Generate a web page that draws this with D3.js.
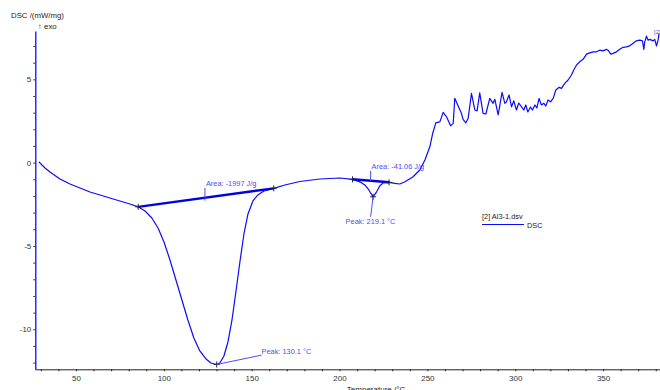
<!DOCTYPE html>
<html><head><meta charset="utf-8">
<script src="https://cdn.jsdelivr.net/npm/d3@7"></script>
<style>
html,body{margin:0;padding:0;background:#fff;}
svg{display:block;font-family:"Liberation Sans",Arial,sans-serif;}
</style></head>
<body><svg id="c" width="660" height="390"></svg>
<script>
// Temperature (°C) and DSC signal (mW/mg)
const temps = [28.9,30.65,32.4,35.2,40.9,46.6,52.3,58.0,63.7,69.3,75.0,80.7,85.4,89.3,93.2,96.7,100.1,103.5,106.9,110.3,113.7,117.1,120.5,124.0,126.8,130.1,131.9,134.2,136.5,138.8,141.0,143.3,145.6,147.9,150.7,153.5,157.0,162.6,168.9,177.4,188.8,200.2,207.4,211.6,214.4,216.7,219.1,221.1,222.9,224.8,228.2,231.5,234.3,237.2,241.7,245.7,248.6,251.4,253.1,254.8,257.1,259.0,260.9,263.2,264.7,265.6,268.1,269.4,270.3,271.9,273.2,275.1,277.0,278.3,279.8,281.7,283.3,285.5,287.4,288.4,290.3,292.5,294.1,295.0,296.5,297.9,299.2,300.7,302.0,303.6,304.9,306.0,307.2,308.7,309.8,311.2,312.3,313.6,314.9,316.3,317.4,318.7,320.1,321.6,323.1,325.0,326.3,328.2,330.1,332.0,333.3,334.9,336.7,338.6,340.6,342.4,344.3,346.2,348.1,350.0,351.9,352.8,354.4,355.7,357.6,359.5,361.4,363.3,365.2,367.1,369.0,370.9,372.4,373.2,373.7,374.7,375.6,376.6,378.5,379.4,380.4,381.3,381.9];
const dsc = [0.05,-0.14,-0.32,-0.56,-0.98,-1.28,-1.52,-1.76,-1.94,-2.12,-2.30,-2.48,-2.65,-2.90,-3.32,-3.92,-4.76,-5.84,-7.04,-8.24,-9.44,-10.52,-11.30,-11.78,-12.02,-12.11,-12.02,-11.60,-10.76,-9.44,-7.76,-5.96,-4.28,-3.08,-2.30,-1.94,-1.70,-1.54,-1.34,-1.13,-0.98,-0.92,-1.00,-1.15,-1.34,-1.64,-2.05,-1.75,-1.40,-1.21,-1.18,-1.24,-1.28,-1.15,-0.86,-0.44,0.16,0.95,1.78,2.39,2.45,3.02,2.75,2.21,2.36,3.86,3.26,2.96,2.60,2.39,2.66,4.16,3.16,3.11,4.19,2.96,2.92,3.86,3.56,3.80,2.86,4.22,3.56,3.65,4.06,3.35,3.71,3.16,3.58,3.35,3.16,3.46,3.04,3.34,3.16,3.46,3.28,3.86,3.46,3.56,3.40,3.76,3.65,3.86,4.36,4.52,4.46,4.76,4.96,5.26,5.56,5.86,6.05,6.20,6.51,6.59,6.65,6.65,6.75,6.71,6.80,6.75,6.51,6.56,6.65,6.80,6.92,6.95,7.01,7.16,7.31,7.35,7.31,6.80,7.25,7.59,7.35,7.40,7.31,7.40,7.00,7.35,7.76];
// Evaluation baselines (start/end points)
const baseline1 = [[85.4,-2.65],[162.6,-1.54]];
const baseline2 = [[207.4,-1.00],[228.2,-1.18]];
const peaks = [[130.1,-12.11],[219.1,-2.05]];
const areaLabels = ["Area: -1997 J/g","Area: -41.06 J/g"];
const areaAnchors = [[123.4,-2.27,-1.51],[217.7,-1.09,-0.49]];
const peakLabels = ["Peak: 130.1 °C","Peak: 219.1 °C"];
const peakLeaderEnds = [[155.6,-11.55],[217.7,-3.25]];
const xTicks = d3.range(30,381,10);
const yTicks = d3.range(-12,8,1);

const svg = d3.select("#c");
const x = d3.scaleLinear().domain([26.85,382.4]).range([35.3,660]);
const y = d3.scaleLinear().domain([-12.4,7.9]).range([369.3,31]);
const blue = "#0a0aff", annot = "#4b4bff";

// axes
const xa = svg.append("g").attr("transform",`translate(0,${y(-12.4)})`)
  .call(d3.axisBottom(x).tickValues(xTicks).tickSize(2).tickSizeOuter(0)
  .tickFormat(d=> d%50===0 ? d : ""));
xa.select(".domain").attr("stroke","#222");
xa.selectAll(".tick line").attr("stroke","#222");
xa.selectAll("text").attr("font-size","8px").attr("fill","#333").attr("dy","0.9em")
  .attr("font-family","Liberation Sans, Arial, sans-serif");

const ya = svg.append("g").attr("transform",`translate(${x(26.85)},0)`)
  .call(d3.axisLeft(y).tickValues(yTicks).tickSize(2).tickSizeOuter(0)
  .tickFormat(d=> d%5===0 ? d : ""));
ya.select(".domain").attr("stroke",blue).attr("stroke-width",1.3);
ya.selectAll(".tick line").attr("stroke","#333");
ya.selectAll("text").attr("font-size","8px").attr("fill","#333").attr("x",-4)
  .attr("font-family","Liberation Sans, Arial, sans-serif");

// axis titles
svg.append("text").attr("x",11).attr("y",18).attr("font-size","7.8px").attr("fill","#222").text("DSC /(mW/mg)");
svg.append("text").attr("x",38).attr("y",29).attr("font-size","7.8px").attr("fill","#222").text("↑ exo");
svg.append("text").attr("x",376).attr("y",392).attr("text-anchor","middle").attr("font-size","8px").attr("fill","#222").text("Temperature /°C");

// curve
const pts = temps.map((t,i)=>[t,dsc[i]]);
const line = d3.line().x(d=>x(d[0])).y(d=>y(d[1]));
svg.append("path").datum(pts).attr("d",line).attr("fill","none").attr("stroke",blue).attr("stroke-width",1.2).attr("stroke-linejoin","round");

// baselines
[baseline1,baseline2].forEach(b=>{
  svg.append("path").datum(b).attr("d",line).attr("fill","none").attr("stroke","#0000e6").attr("stroke-width",2.4);
});
// cross markers
const crosses = [...baseline1,...baseline2,...peaks];
crosses.forEach(p=>{
  const cx=x(p[0]), cy=y(p[1]);
  svg.append("path").attr("d",`M${cx-3},${cy}H${cx+3}M${cx},${cy-3}V${cy+3}`).attr("stroke","#202040").attr("stroke-width",1);
});
// area labels
areaAnchors.forEach((a,i)=>{
  svg.append("line").attr("x1",x(a[0])).attr("x2",x(a[0])).attr("y1",y(a[1])).attr("y2",y(a[2])).attr("stroke",annot).attr("stroke-width",1);
  svg.append("text").attr("x",x(a[0])+1).attr("y",y(a[2])-2).attr("font-size","7.4px").attr("fill",annot).text(areaLabels[i]);
});
// peak labels
peaks.forEach((p,i)=>{
  const e = peakLeaderEnds[i];
  svg.append("line").attr("x1",x(p[0])).attr("y1",y(p[1])).attr("x2",x(e[0])).attr("y2",y(e[1])).attr("stroke",annot).attr("stroke-width",1);
});
svg.append("text").attr("x",x(peakLeaderEnds[0][0])).attr("y",y(peakLeaderEnds[0][1])-1.5).attr("font-size","7.4px").attr("fill",annot).text(peakLabels[0]);
svg.append("text").attr("x",x(peakLeaderEnds[1][0])-25).attr("y",y(peakLeaderEnds[1][1])+7.5).attr("font-size","7.4px").attr("fill",annot).text(peakLabels[1]);

// legend
svg.append("text").attr("x",482).attr("y",219).attr("font-size","7.4px").attr("fill","#222").text("[2] Al3-1.dsv");
svg.append("line").attr("x1",482).attr("x2",524).attr("y1",224.5).attr("y2",224.5).attr("stroke",blue).attr("stroke-width",1.2);
svg.append("text").attr("x",527).attr("y",228).attr("font-size","7.4px").attr("fill","#222").text("DSC");
// curve end tag
svg.append("text").attr("x",x(381.9)-5).attr("y",y(7.76)+1).attr("font-size","6px").attr("fill",annot).text("[2]");
</script></body></html>
